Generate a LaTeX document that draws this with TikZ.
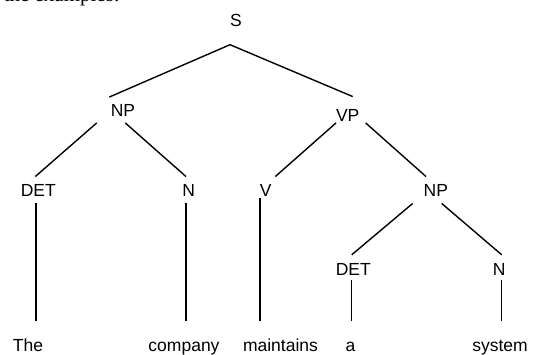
\documentclass[tikz,border=0pt]{standalone}
\usepackage{fontspec}
\usetikzlibrary{calc}
\newfontfamily\treefont{Liberation Sans}
\newfontfamily\bodyfont{Liberation Serif}

\begin{document}
\begin{tikzpicture}[x=1pt,y=-1pt,
		lab/.style={font=\treefont\fontsize{17.5}{20}\selectfont, inner sep=0pt, text height=12.5pt, text depth=0pt},
		branch/.style={line width=1.4pt, black}]
				\useasboundingbox (0,0) rectangle (536,354);
				
				% end of the running text above the tree
				\node[anchor=base east, inner sep=0pt, font=\bodyfont\fontsize{21}{24}\selectfont] (txt) at (120,1.5) {the examples:};
				
				\node[lab] (s)    at (236,20)    {S};
				\node[lab] (np)   at (123,110.5) {NP};
				\node[lab] (vp)   at (347.7,115) {VP};
				\node[lab] (det1) at (38.3,190.3) {DET};
				\node[lab] (n1)   at (188.8,190.3) {N};
				\node[lab] (v)    at (265.8,190.3) {V};
				\node[lab] (np2)  at (435.8,190.5) {NP};
				\node[lab] (det2) at (353.3,269) {DET};
				\node[lab] (n2)   at (499.2,269) {N};
				
				\node[lab] (the)       at (28,345.5)    {The};
				\node[lab] (company)   at (184,345.5)   {company};
				\node[lab] (maintains) at (280.5,345.5) {maintains};
				\node[lab] (a)         at (350.5,345.5) {a};
				\node[lab] (system)    at (500,345.5)   {system};
				
				\foreach \p/\c/\px/\py/\cx/\cy in {
						s/np/-6/18.25/-13.7/-7,
						s/vp/-6/18.25/5/-12,
						np/det1/-26.3/6/-3/-7.3,
						np/n1/2.3/6/-2.8/-7.3,
						vp/v/-11.7/1.5/9.5/-7.3,
						vp/np2/18/1.5/-9.8/-7.5,
						np2/det2/-23.1/6.5/-1.6/-7.75,
						np2/n2/5.9/6.5/2.5/-7.75,
						det1/the/-2.3/6/8/-17.7,
						n1/company/-2.8/6/2/-17.7,
						v/maintains/-5.8/1.7/-20.5/-17.7,
						det2/a/-1.6/4.75/1.2/-17.7,
						n2/system/2.5/4.75/1.7/-17.7}{
					\draw[branch] ($(\p.south)+(\px,\py)$) -- ($(\c.north)+(\cx,\cy)$);}
			\end{tikzpicture}
\end{document}
